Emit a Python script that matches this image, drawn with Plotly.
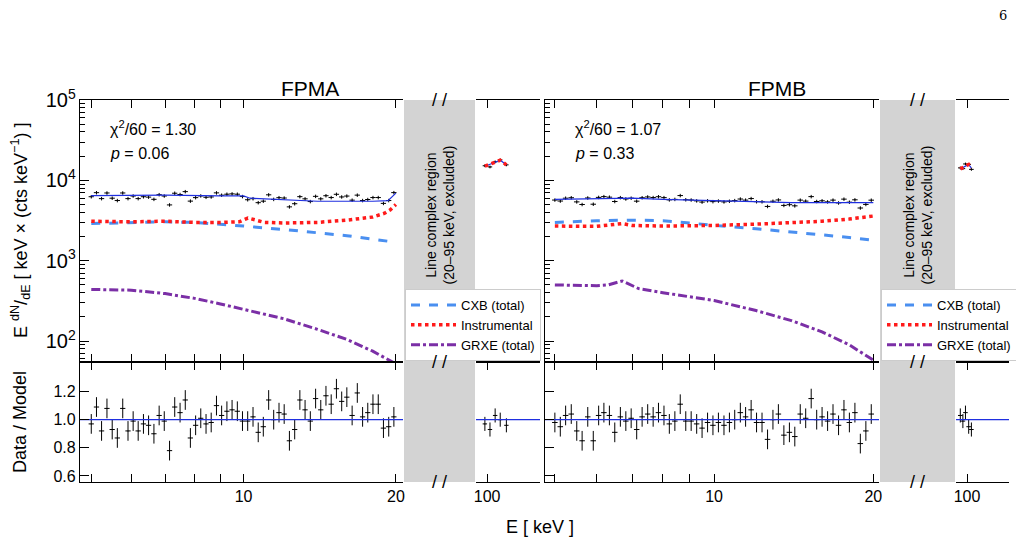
import plotly.graph_objects as go
import numpy as np

W, H = 1024, 548
E = [5.00,5.12,5.24,5.37,5.50,5.63,5.77,5.91,6.05,6.19,6.34,6.49,6.65,6.81,6.97,7.14,7.31,7.49,7.67,7.85,
     8.04,8.23,8.43,8.63,8.84,9.05,9.27,9.49,9.72,9.95,10.19,10.44,10.69,10.94,11.21,11.47,11.75,12.03,12.32,
     12.62,12.92,13.23,13.55,13.88,14.21,14.55,14.90,15.26,15.63,16.00,16.39,16.78,17.19,17.60,18.02,18.46,
     18.90,19.36,19.82]

A_ratio = [0.97,1.09,0.92,1.08,0.93,0.87,1.08,0.92,0.99,0.92,0.97,0.96,0.90,1.03,0.99,0.78,1.09,1.05,1.14,0.87,
           0.96,1.01,0.97,0.98,1.10,1.03,1.06,1.07,1.06,0.99,0.99,1.02,0.91,0.95,1.14,1.00,1.05,1.04,0.85,0.93,
           1.14,1.07,0.99,1.15,1.07,1.17,1.11,1.22,1.13,1.16,1.03,1.19,1.02,1.05,1.11,1.11,0.94,0.95,1.02]
A_data = [6260,7030,5930,6970,6000,5610,6970,5930,6390,5930,6260,6190,5810,6640,6390,4950,6920,6670,7240,5520,
          6100,6410,6160,6220,6990,6540,6730,6790,6730,6290,5740,5920,5280,5510,6610,5800,6090,6030,4680,5120,
          6270,5890,5450,6330,5890,6440,6110,6710,6220,6380,5670,6550,5610,5780,6110,6110,5170,5610,7040]
B_ratio = [0.98,0.95,1.03,1.04,0.92,0.85,1.02,0.85,1.03,1.05,1.03,0.91,1.02,0.99,1.01,0.93,1.02,1.04,1.02,1.05,
           1.03,0.97,0.99,1.11,0.99,0.99,0.97,0.94,0.98,0.96,0.98,0.96,0.98,1.00,1.05,1.02,1.07,0.98,0.98,0.86,
           1.00,1.04,0.89,0.91,0.88,1.04,1.01,1.15,1.00,1.02,0.99,1.04,0.96,1.07,0.98,1.05,0.83,0.92,1.04]
B_data = [5690,5530,6000,6080,5400,5010,6040,5050,6140,6280,6180,5460,6100,5870,6000,5510,6080,6220,6110,6260,
          6100,5720,5800,6470,5740,5700,5560,5370,5570,5440,5530,5400,5500,5600,5860,5680,5940,5430,5420,4740,
          5500,5710,4880,4980,4820,5680,5520,6280,5460,5570,5400,5680,5240,5840,5350,5730,4530,5020,5670]

A_hiE = [99.0,101.3,103.7,106.1,109.1]
A_hi_data = [15200,14700,17000,18000,15600]
A_hi_ratio = [0.97,0.93,1.03,1.00,0.96]
A_hi_model = [15000,15700,16800,17800,15600]
B_hiE = [97.1,98.2,99.3,100.7,101.9]
B_hi_data = [14300,14000,16000,15800,13700]
B_hi_ratio = [1.03,0.99,1.05,0.95,0.93]
B_hi_model = [13900,14500,15000,15800,14200]

A_cxb_E = [5,6,7,8,9,10,12,14,16,18,20]
A_cxb = [2900,3000,3050,3000,2850,2700,2450,2250,2050,1850,1700]
A_inst_E = [5,6,7,8,9,9.8,10.2,11,12,14,16,18,19,19.5,20]
A_inst = [3100,3050,3100,3000,3000,3050,3400,3000,2950,3000,3200,3500,3900,4300,5000]
A_grxe_E = [5,6,7,8,9,10,12,14,16,18,20]
A_grxe = [440,430,390,340,290,250,190,140,105,75,52]
A_model_E = [5,7,9,10,10.3,12,14,18,19.3,20]
A_model = [6450,6550,6400,6400,6000,5700,5500,5500,5600,6950]

B_cxb_E = [5,6,7,8,9,10,12,14,16,18,20]
B_cxb = [3000,3150,3200,3150,2950,2750,2500,2300,2100,1950,1800]
B_inst_E = [5,6,6.7,7,8,9,10,12,14,16,18,20]
B_inst = [2700,2680,2900,2750,2700,2700,2750,2850,2950,3100,3300,3600]
B_grxe_E = [5,6,6.3,6.7,7.2,8,10,12,14,16,18,20]
B_grxe = [500,490,500,560,450,400,320,240,180,130,90,58]
B_model_E = [5,7,8,10,14,20]
B_model = [5800,6000,5800,5550,5300,5300]

panels = [
    dict(name="FPMA", chi="χ<sup>2</sup>/60 = 1.30", p="<i>p</i> = 0.06",
         px=(80, 403, 476, 540), lo=4.75, hi=20.66, rlo=95.1, rhi=127,
         ratio=A_ratio, data=A_data, hiE=A_hiE, hid=A_hi_data, hir=A_hi_ratio, him=A_hi_model,
         cxb=(A_cxb_E, A_cxb), inst=(A_inst_E, A_inst), grxe=(A_grxe_E, A_grxe), model=(A_model_E, A_model)),
    dict(name="FPMB", chi="χ<sup>2</sup>/60 = 1.07", p="<i>p</i> = 0.33",
         px=(545, 879, 956, 1009), lo=4.79, hi=20.5, rlo=95.3, rhi=120,
         ratio=B_ratio, data=B_data, hiE=B_hiE, hid=B_hi_data, hir=B_hi_ratio, him=B_hi_model,
         cxb=(B_cxb_E, B_cxb), inst=(B_inst_E, B_inst), grxe=(B_grxe_E, B_grxe), model=(B_model_E, B_model)),
]

TOP, MID, BOT = 100, 362, 482
OFF = 8  # page body margin
def fy(p): return (H - (p - OFF)) / H
def fx(p): return (p - OFF) / W

FONT = "Liberation Sans, Arial, sans-serif"
fig = go.Figure()
CXBc, INSTc, GRXc, MODc = "#4a8ff0", "#ff1a1a", "#7b2fa6", "#1f2fe0"
shapes, annots = [], []
lay = {}

for k, P in enumerate(panels):
    b = 4 * k
    xs = [f"x{'' if b+1 == 1 else b+1}", f"x{b+2}", f"x{b+3}", f"x{b+4}"]
    yb = 2 * k
    yt, ybo = f"y{'' if yb+1 == 1 else yb+1}", f"y{yb+2}"
    yo1, yo2 = f"y{5+yb}", f"y{6+yb}"
    leg = "legend" if k == 0 else "legend2"
    x0, x1, x2, x3 = P["px"]
    E_arr = np.array(E)
    xerr = E_arr * 0.012
    ratio = np.array(P["ratio"])
    data = np.array(P["data"])
    eb = dict(color="black", thickness=1, width=0)
    fig.add_trace(go.Scatter(x=E, y=data, mode="markers", marker=dict(size=1, color="black"),
                             error_x=dict(array=xerr, **eb), error_y=dict(array=data * 0.05, **eb),
                             xaxis=xs[0], yaxis=yt, showlegend=False))
    for key, col, dash, wd, nm in [("cxb", CXBc, "dash", 3, "CXB (total)"),
                                   ("inst", INSTc, "dot", 3.5, "Instrumental"),
                                   ("grxe", GRXc, "dashdot", 3, "GRXE (total)")]:
        ex, ey = P[key]
        fig.add_trace(go.Scatter(x=ex, y=ey, mode="lines", line=dict(color=col, dash=dash, width=wd),
                                 xaxis=xs[0], yaxis=yt, name=nm, legend=leg, showlegend=True))
    fig.add_trace(go.Scatter(x=P["model"][0], y=P["model"][1], mode="lines", line=dict(color=MODc, width=1.2),
                             xaxis=xs[0], yaxis=yt, showlegend=False))
    hiE = np.array(P["hiE"])
    hid = np.array(P["hid"])
    fig.add_trace(go.Scatter(x=hiE, y=hid, mode="markers", marker=dict(size=1, color="black"),
                             error_x=dict(array=hiE * 0.01, **eb), error_y=dict(array=hid * 0.04, **eb),
                             xaxis=xs[1], yaxis=yt, showlegend=False))
    fig.add_trace(go.Scatter(x=hiE, y=P["him"], mode="lines", line=dict(color=MODc, width=1.2),
                             xaxis=xs[1], yaxis=yt, showlegend=False))
    fig.add_trace(go.Scatter(x=hiE, y=P["him"], mode="lines", line=dict(color=INSTc, dash="dot", width=3.5),
                             xaxis=xs[1], yaxis=yt, showlegend=False))
    fig.add_trace(go.Scatter(x=E, y=ratio, mode="markers", marker=dict(size=1, color="black"),
                             error_x=dict(array=xerr, **eb), error_y=dict(array=[0.07] * len(E), **eb),
                             xaxis=xs[2], yaxis=ybo, showlegend=False))
    fig.add_trace(go.Scatter(x=hiE, y=P["hir"], mode="markers", marker=dict(size=1, color="black"),
                             error_x=dict(array=hiE * 0.01, **eb), error_y=dict(array=[0.05] * 5, **eb),
                             xaxis=xs[3], yaxis=ybo, showlegend=False))
    fig.add_trace(go.Scatter(x=[P["lo"], P["hi"]], y=[1, 1], mode="lines", line=dict(color=MODc, width=1.2),
                             xaxis=xs[2], yaxis=ybo, showlegend=False))
    fig.add_trace(go.Scatter(x=[P["rlo"], P["rhi"]], y=[1, 1], mode="lines", line=dict(color=MODc, width=1.2),
                             xaxis=xs[3], yaxis=ybo, showlegend=False))

    common = dict(type="log", showline=True, linecolor="black", linewidth=1.2, mirror="ticks",
                  ticks="inside", tickcolor="black", showgrid=False, zeroline=False, automargin=False,
                  tickfont=dict(family=FONT, size=16, color="black"))
    lvals = [5, 6, 7, 8, 9, 10, 20]
    for i, (ax, dom, rng, ya) in enumerate([(xs[0], (x0, x1), (P["lo"], P["hi"]), yt),
                                            (xs[1], (x2, x3), (P["rlo"], P["rhi"]), yt),
                                            (xs[2], (x0, x1), (P["lo"], P["hi"]), ybo),
                                            (xs[3], (x2, x3), (P["rlo"], P["rhi"]), ybo)]):
        left = i % 2 == 0
        tv = lvals if left else [100]
        tt = ["", "", "", "", "", "10", "20"] if left else ["100"]
        if i < 2:
            tt = [""] * len(tv)
        key = "xaxis" + ("" if ax == "x" else ax[1:])
        lay[key] = dict(common, domain=[fx(dom[0]), fx(dom[1])], range=[np.log10(rng[0]), np.log10(rng[1])],
                        anchor=ya, tickvals=tv, ticktext=tt, ticklen=8)
    ykey = lambda a: "yaxis" + ("" if a == "y" else a[1:])
    ytop = dict(type="log", range=[1.74, 5.0], domain=[fy(MID), fy(TOP)], showline=True, linecolor="black",
                linewidth=1.2, ticks="inside", ticklen=9, tickcolor="black", dtick=1, exponentformat="power",
                showgrid=False, zeroline=False, automargin=False,
                minor=dict(ticks="inside", ticklen=5, tickcolor="black"),
                tickfont=dict(family=FONT, size=16, color="black"))
    ybot = dict(range=[0.557, 1.41], domain=[fy(BOT), fy(MID)], showline=True, linecolor="black", linewidth=1.2,
                ticks="inside", ticklen=9, tickcolor="black", tickvals=[0.6, 0.8, 1.0, 1.2], tickformat=".1f",
                showgrid=False, zeroline=False, automargin=False,
                tickfont=dict(family=FONT, size=16, color="black"))
    lay[ykey(yt)] = dict(ytop, anchor=xs[0], showticklabels=(k == 0))
    lay[ykey(ybo)] = dict(ybot, anchor=xs[2], showticklabels=(k == 0))
    lay[ykey(yo1)] = dict(ytop, anchor=xs[1], side="right", overlaying=yt, showticklabels=False)
    lay[ykey(yo2)] = dict(ybot, anchor=xs[3], side="right", overlaying=ybo, showticklabels=False)

    shapes.append(dict(type="rect", xref="paper", yref="paper", x0=fx(x1 + 1), x1=fx(x2 - 1), y0=fy(BOT),
                       y1=fy(TOP), fillcolor="#d3d3d3", line=dict(width=0), layer="below"))
    cx = (x1 + x2) / 2
    for yy in (TOP, MID, BOT):
        annots.append(dict(x=fx(cx), y=fy(yy), xref="paper", yref="paper", text="/ /", showarrow=False,
                           xanchor="center", yanchor="middle",
                           font=dict(family=FONT, size=18, color="black")))
    annots.append(dict(x=fx(cx), y=fy(215), xref="paper", yref="paper", showarrow=False, textangle=-90,
                       xanchor="center", yanchor="middle",
                       text="Line complex region<br>(20–95 keV, excluded)",
                       font=dict(family=FONT, size=14, color="black")))
    annots.append(dict(x=fx((x0 + x3) / 2), y=fy(88), xref="paper", yref="paper", showarrow=False,
                       xanchor="center", yanchor="middle",
                       text=P["name"], font=dict(family=FONT, size=21, color="black")))
    annots.append(dict(x=fx(x0 + 28), y=fy(128), xref="paper", yref="paper", showarrow=False, xanchor="left",
                       yanchor="middle", text=P["chi"], font=dict(family=FONT, size=16, color="black")))
    annots.append(dict(x=fx(x0 + 28), y=fy(153), xref="paper", yref="paper", showarrow=False, xanchor="left",
                       yanchor="middle", text=P["p"], font=dict(family=FONT, size=16, color="black")))
    lay[leg] = dict(x=fx(x1 + 2), y=fy(289), xanchor="left", yanchor="top", bgcolor="white",
                    bordercolor="#cccccc", borderwidth=1, font=dict(family=FONT, size=13, color="black"),
                    tracegroupgap=0, itemwidth=45)

annots.append(dict(x=fx(540), y=fy(527), xref="paper", yref="paper", showarrow=False, text="E [ keV ]",
                   xanchor="center", yanchor="middle", font=dict(family=FONT, size=18, color="black")))
annots.append(dict(x=fx(20), y=fy(231), xref="paper", yref="paper", showarrow=False, textangle=-90,
                   xanchor="center", yanchor="middle",
                   text="E <sup>dN</sup>/<sub>dE</sub> [ keV × (cts keV<sup>−1</sup>) ]",
                   font=dict(family=FONT, size=18, color="black")))
annots.append(dict(x=fx(20), y=fy(422), xref="paper", yref="paper", showarrow=False, textangle=-90,
                   xanchor="center", yanchor="middle",
                   text="Data / Model", font=dict(family=FONT, size=18, color="black")))
annots.append(dict(x=fx(1003), y=fy(15), xref="paper", yref="paper", showarrow=False, text="6",
                   xanchor="center", yanchor="middle",
                   font=dict(family="DejaVu Serif", size=13, color="black")))

fig.update_layout(width=W, height=H, margin=dict(l=0, r=0, t=0, b=0, pad=0, autoexpand=False),
                  plot_bgcolor="white", paper_bgcolor="white", shapes=shapes, annotations=annots, **lay)
fig.write_html("out.html", config={"responsive": False})
